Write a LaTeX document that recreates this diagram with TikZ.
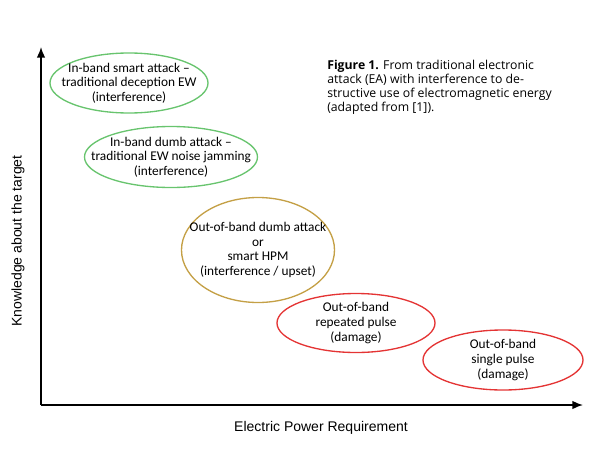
\documentclass[tikz,border=0pt]{standalone}
\usepackage{fontspec}
\usepackage{tikz}
\usetikzlibrary{arrows.meta, shapes.geometric}
\newfontfamily\calibrifont{Carlito}
\newfontfamily\arialfont{Liberation Sans}
\newfontfamily\captionfont{Open Sans}
\definecolor{bandgreen}{RGB}{104,196,110}
\definecolor{hpmgold}{RGB}{196,160,70}
\definecolor{pulsered}{RGB}{228,52,52}
\tikzset{
  axis/.style={line width=1.2pt, -{Latex[length=8pt, width=6.5pt]}},
  attack/.style={ellipse, draw=#1, line width=1pt, inner sep=0pt},
  attacktext/.style={align=center, font=\calibrifont\fontsize{10}{10.9}\selectfont},
  axislabel/.style={font=\arialfont\fontsize{10.5}{12}\selectfont}
}
\begin{document}
\begin{tikzpicture}[x=0.75pt, y=-0.75pt]
  \useasboundingbox (0,0) rectangle (600,457);
  % axes
  \coordinate (origin) at (41,405);
  \coordinate (ytop) at (41,47);
  \coordinate (xend) at (583,405);
  \draw[axis] (origin) -- (ytop);
  \draw[axis] (origin) -- (xend);
  \node[axislabel] (xlabel) at (321,428) {Electric Power Requirement};
  \node[axislabel, rotate=90] (ylabel) at (18,241) {Knowledge about the target};
  % caption
  \node[anchor=north west, align=left, inner sep=0pt,
        font=\captionfont\fontsize{9.2}{10.6}\selectfont] (caption) at (327,60)
    {\textbf{Figure 1.} From traditional electronic\\
     attack (EA) with interference to de-\\
     structive use of electromagnetic energy\\
     (adapted from [1]).};
  % attacks
  \node[attack=bandgreen, minimum width=118.5pt, minimum height=45pt] (smart) at (129,83) {};
  \node[attacktext] at (smart) {In-band smart attack –\\traditional deception EW\\(interference)};
  \node[attack=bandgreen, minimum width=129.75pt, minimum height=45.75pt] (dumb) at (171,157) {};
  \node[attacktext] at (dumb) {In-band dumb attack –\\traditional EW noise jamming\\(interference)};
  \node[attack=hpmgold, minimum width=114.75pt, minimum height=78.75pt] (hpm) at (258,250) {};
  \node[attacktext] at (hpm) {Out-of-band dumb attack\\or\\smart HPM\\(interference / upset)};
  \node[attack=pulsered, minimum width=118.5pt, minimum height=44.25pt] (repeated) at (356,323) {};
  \node[attacktext] at (repeated) {Out-of-band\\repeated pulse\\(damage)};
  \node[attack=pulsered, minimum width=120pt, minimum height=45pt] (single) at (503,360) {};
  \node[attacktext] at (single) {Out-of-band\\single pulse\\(damage)};
\end{tikzpicture}
\end{document}
